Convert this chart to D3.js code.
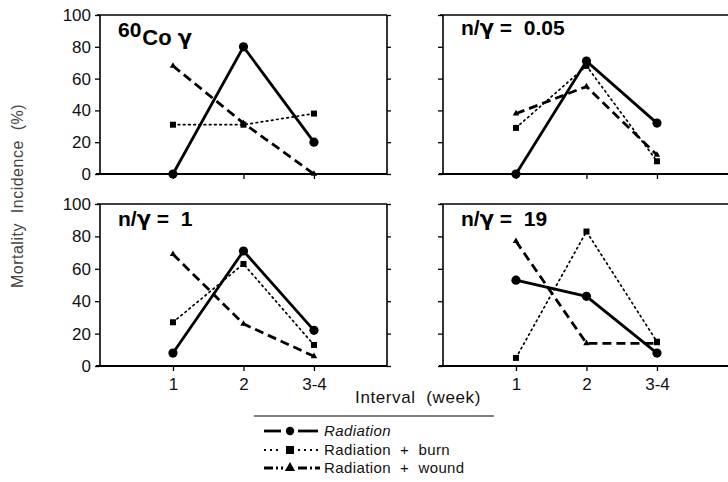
<!DOCTYPE html>
<html><head><meta charset="utf-8">
<script src="https://cdn.jsdelivr.net/npm/d3@7"></script>
<style>body{margin:0;background:#fff;} svg{display:block;}</style>
</head><body>
<svg id="c" width="728" height="482"></svg>
<script>
const intervals = ["1", "2", "3-4"];
const panelTitles = ["60Co γ", "n/γ =  0.05", "n/γ =  1", "n/γ =  19"];
const yTicks = [0, 20, 40, 60, 80, 100];
const radiation = [[0, 80, 20], [0, 71, 32], [8, 71, 22], [53, 43, 8]];
const burn      = [[31, 31, 38], [29, 68, 8], [27, 63, 13], [5, 83, 15]];
const wound     = [[68, 32, 0], [38, 55, 12], [69, 26, 6], [77, 14, 14]];
const legendLabels = ["Radiation", "Radiation  +  burn", "Radiation  +  wound"];

const svg = d3.select("#c");
const font = "'Liberation Sans', Arial, Helvetica, sans-serif";
const greekFont = "'DejaVu Sans', sans-serif";
const pw = 287;
const layout = [
  {x: 100, y: 15, h: 159, col: 0, row: 0},
  {x: 443, y: 15, h: 159, col: 1, row: 0},
  {x: 100, y: 204, h: 162, col: 0, row: 1},
  {x: 443, y: 204, h: 162, col: 1, row: 1}
];
const styles = [
  {data: radiation, width: 2.8, dash: null, marker: "circle"},
  {data: burn, width: 1.7, dash: "1.6,3.6", marker: "square"},
  {data: wound, width: 2.8, dash: "9,5", marker: "triangle"}
];

function addTitleText(t, str) {
  str.split(/(γ)/).forEach(part => {
    if (!part) return;
    const ts = t.append("tspan").text(part);
    if (part === "γ") ts.attr("font-family", greekFont);
  });
}

layout.forEach((L, p) => {
  const x = d3.scaleLinear().domain([-0.035, 4.036]).range([L.x, L.x + pw]);
  const y = d3.scaleLinear().domain([0, 100]).range([L.y + L.h, L.y]);
  const g = svg.append("g");
  g.append("line").attr("x1", L.x - 3).attr("x2", L.x + pw).attr("y1", L.y).attr("y2", L.y)
    .attr("stroke", "#000").attr("stroke-width", 1.6);
  g.append("line").attr("x1", L.x).attr("x2", L.x).attr("y1", L.y).attr("y2", L.y + L.h)
    .attr("stroke", "#000").attr("stroke-width", 1.6);
  if (L.col === 0) {
    g.append("line").attr("x1", L.x + pw).attr("x2", L.x + pw).attr("y1", L.y).attr("y2", L.y + L.h)
      .attr("stroke", "#000").attr("stroke-width", 1.6);
    const ra = d3.axisRight(y).tickValues(yTicks).tickSize(4).tickFormat("");
    const rg = g.append("g").attr("transform", `translate(${L.x + pw},0)`).call(ra);
    rg.select(".domain").remove();
    rg.selectAll("line").attr("stroke-width", 1.3);
  }
  const la = d3.axisLeft(y).tickValues(yTicks).tickSize(5).tickPadding(4)
    .tickFormat(L.col === 0 ? d3.format("d") : "");
  const lg = g.append("g").attr("transform", `translate(${L.x},0)`).call(la);
  lg.select(".domain").remove();
  lg.selectAll("line").attr("stroke-width", 1.3);
  lg.selectAll("text").attr("font-family", font).attr("font-size", 17).attr("fill", "#111");
  const ba = d3.axisBottom(x).tickValues([1, 2, 3]).tickSize(5).tickPadding(7)
    .tickFormat(L.row === 1 ? (d => intervals[d - 1]) : "");
  const bg = g.append("g").attr("transform", `translate(0,${L.y + L.h})`).call(ba);
  bg.select(".domain").attr("d", `M${L.x - 4},0H${L.x + pw}`).attr("stroke-width", 1.8);
  bg.selectAll("line").attr("stroke-width", 1.3);
  bg.selectAll("text").attr("font-family", font).attr("font-size", 17).attr("fill", "#111");

  styles.forEach(s => {
    const vals = s.data[p];
    const line = d3.line().x((d, i) => x(i + 1)).y(d => y(d));
    g.append("path").attr("d", line(vals)).attr("fill", "none").attr("stroke", "#000")
      .attr("stroke-width", s.width).attr("stroke-dasharray", s.dash)
      .attr("stroke-linecap", s.marker === "square" ? "round" : "butt");
    vals.forEach((v, i) => {
      const cx = x(i + 1), cy = y(v);
      if (s.marker === "circle") {
        g.append("circle").attr("cx", cx).attr("cy", cy).attr("r", 4.6).attr("fill", "#000");
      } else if (s.marker === "square") {
        g.append("rect").attr("x", cx - 3).attr("y", cy - 3).attr("width", 6).attr("height", 6).attr("fill", "#000");
      } else {
        g.append("path").attr("d", d3.symbol(d3.symbolTriangle, 18)()).attr("transform", `translate(${cx},${cy})`).attr("fill", "#000");
      }
    });
  });

  const tx = L.x + 18, ty = L.y + (L.row === 0 ? 20 : 22);
  if (p === 0) {
    const t = g.append("text").attr("x", tx).attr("y", ty + 2).attr("font-family", font)
      .attr("font-weight", "bold").attr("fill", "#000").style("white-space", "pre");
    t.append("tspan").attr("font-size", 21).text(panelTitles[0].slice(0, 2));
    t.append("tspan").attr("font-size", 22).attr("dy", 8).attr("dx", 1).text(panelTitles[0].slice(2, 4) + " ");
    t.append("tspan").attr("font-size", 21).attr("font-family", greekFont).text(panelTitles[0].slice(5));
  } else {
    const t = g.append("text").attr("x", tx).attr("y", ty).attr("font-family", font)
      .attr("font-weight", "bold").attr("font-size", 21).attr("fill", "#000")
      .style("white-space", "pre");
    addTitleText(t, panelTitles[p]);
  }
});

svg.append("text").attr("transform", "translate(23,196) rotate(-90)").attr("text-anchor", "middle")
  .attr("font-family", font).attr("font-size", 16).attr("fill", "#444").attr("letter-spacing", 0.5)
  .style("white-space", "pre").text("Mortality  Incidence  (%)");

svg.append("text").attr("x", 418).attr("y", 403).attr("text-anchor", "middle")
  .attr("font-family", font).attr("font-size", 17).attr("fill", "#111").attr("letter-spacing", 0.6)
  .style("white-space", "pre").text("Interval  (week)");

svg.append("line").attr("x1", 254).attr("x2", 494).attr("y1", 416).attr("y2", 416)
  .attr("stroke", "#000").attr("stroke-width", 1.2);
const rowsY = [431, 450, 468];
styles.forEach((s, i) => {
  const ly = rowsY[i];
  const lg = svg.append("g");
  if (i === 0) {
    lg.append("line").attr("x1", 264).attr("x2", 281).attr("y1", ly).attr("y2", ly).attr("stroke", "#000").attr("stroke-width", 2.8);
    lg.append("line").attr("x1", 298).attr("x2", 318).attr("y1", ly).attr("y2", ly).attr("stroke", "#000").attr("stroke-width", 2.8);
    lg.append("circle").attr("cx", 290).attr("cy", ly).attr("r", 4.2).attr("fill", "#000");
  } else if (i === 1) {
    lg.append("line").attr("x1", 264).attr("x2", 282).attr("y1", ly).attr("y2", ly).attr("stroke", "#000").attr("stroke-width", 1.8).attr("stroke-dasharray", "2,4");
    lg.append("line").attr("x1", 298).attr("x2", 318).attr("y1", ly).attr("y2", ly).attr("stroke", "#000").attr("stroke-width", 1.8).attr("stroke-dasharray", "2,4");
    lg.append("rect").attr("x", 286).attr("y", ly - 4).attr("width", 8).attr("height", 8).attr("fill", "#000");
  } else {
    lg.append("line").attr("x1", 264).attr("x2", 283).attr("y1", ly).attr("y2", ly).attr("stroke", "#000").attr("stroke-width", 2.8).attr("stroke-dasharray", "9,3,2,3");
    lg.append("line").attr("x1", 298).attr("x2", 320).attr("y1", ly).attr("y2", ly).attr("stroke", "#000").attr("stroke-width", 2.8).attr("stroke-dasharray", "9,3,2,3");
    lg.append("path").attr("d", d3.symbol(d3.symbolTriangle, 45)()).attr("transform", `translate(290,${ly})`).attr("fill", "#000");
  }
  lg.append("text").attr("x", 324).attr("y", ly + 5).attr("font-family", font).attr("font-size", 15)
    .attr("letter-spacing", 0.4)
    .attr("font-style", i === 0 ? "italic" : "normal").attr("fill", "#111")
    .style("white-space", "pre").text(legendLabels[i]);
});
</script>
</body></html>
